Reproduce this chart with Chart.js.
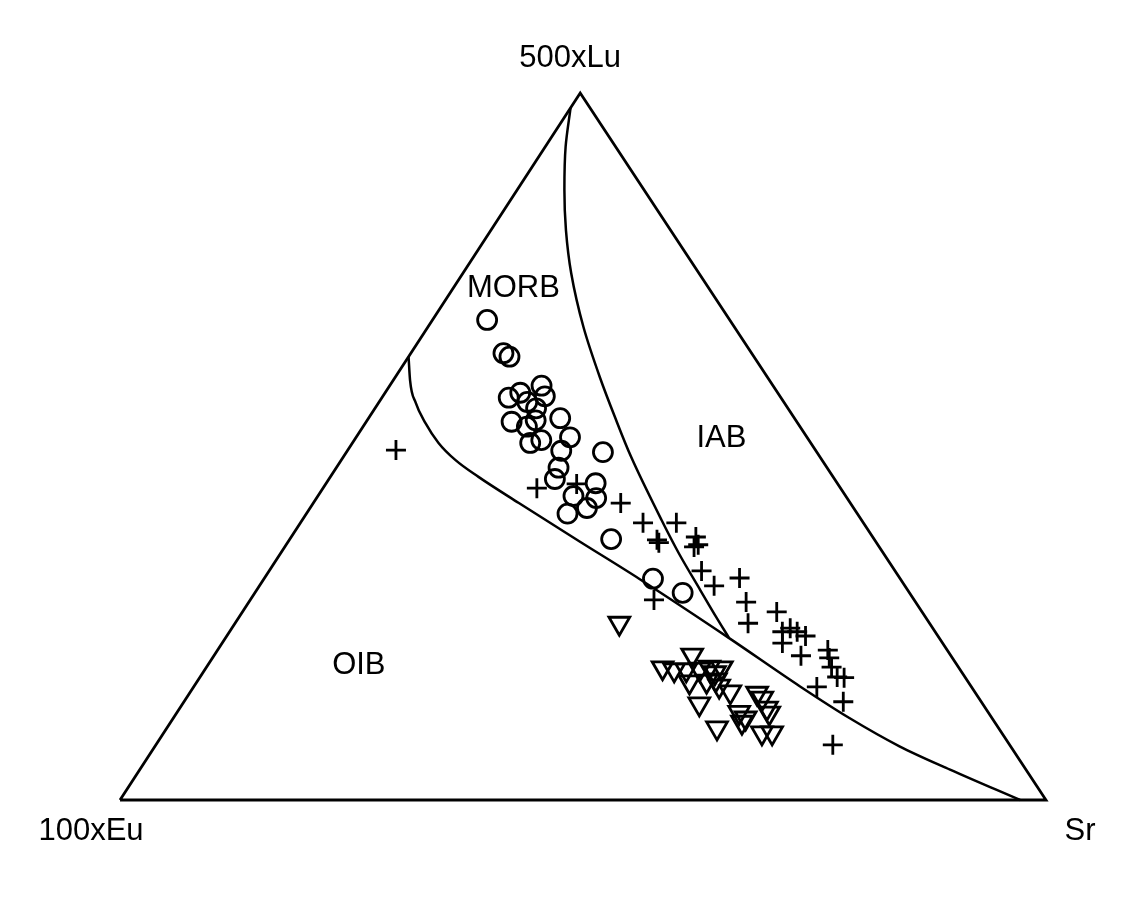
<!DOCTYPE html>
<html>
<head>
<meta charset="utf-8">
<script src="https://cdn.jsdelivr.net/npm/chart.js@4/dist/chart.umd.min.js"></script>
<style>
  body { margin: 0; background: #fff; }
  canvas { display: block; }
</style>
</head>
<body>
<canvas id="chart" width="1125" height="900"></canvas>
<script>
// ternary values in percent: Lu = 500xLu, Sr = Sr (100xEu is the rest)
const circLu = [67.9, 63.2, 62.7, 58.6, 57.1, 56.9, 57.6, 56.3, 53.5, 52.8, 53.7, 54.0, 51.3, 50.9, 50.5, 49.4, 49.2, 47.0, 45.4, 44.8, 43.0, 42.7, 41.3, 40.5, 36.9, 31.3, 29.3, 55.4];
const circSr = [5.9, 10.0, 10.9, 16.4, 17.5, 13.7, 14.6, 16.0, 15.7, 17.7, 18.2, 20.7, 23.1, 20.2, 19.2, 23.1, 27.7, 24.0, 24.4, 29.1, 27.6, 30.2, 29.9, 28.2, 34.7, 42.0, 46.2, 17.4];

const plusLu = [49.5, 44.1, 44.7, 42.0, 39.2, 39.2, 36.8, 36.4, 37.2, 35.8, 36.1, 32.4, 30.3, 31.4, 28.3, 28.0, 25.0, 26.6, 23.8, 22.2, 24.3, 23.8, 23.2, 20.4, 21.2, 20.1, 18.8, 17.4, 17.3, 16.0, 13.9, 7.8];
const plusSr = [5.2, 23.1, 27.1, 33.2, 37.0, 40.6, 39.7, 40.1, 43.7, 44.2, 44.5, 46.7, 49.1, 51.3, 43.6, 53.7, 55.4, 57.7, 59.7, 60.5, 60.3, 61.3, 62.5, 63.4, 65.9, 66.6, 67.5, 68.8, 69.6, 67.3, 71.2, 73.1];

const triLu = [25.0, 20.5, 18.7, 18.4, 18.4, 18.5, 18.8, 18.0, 18.7, 16.7, 16.8, 17.0, 16.1, 15.3, 13.6, 15.1, 14.4, 13.0, 12.4, 11.6, 11.0, 10.2, 9.5, 9.5, 12.3];
const triSr = [41.5, 51.6, 49.3, 50.7, 52.0, 53.4, 54.3, 55.3, 55.7, 53.2, 55.0, 55.9, 56.7, 58.3, 55.8, 61.3, 62.2, 63.4, 60.7, 61.8, 61.7, 59.4, 64.6, 65.7, 64.0];

// field boundaries
const iabLineLu = [97.9, 92.4, 86.3, 80.6, 74.5, 66.9, 59.8, 54.2, 48.5, 39.6, 34.9, 29.7, 25.9, 22.9];
const iabLineSr = [0.0, 2.2, 5.1, 8.1, 11.7, 16.8, 22.1, 26.5, 31.1, 38.8, 43.0, 47.9, 51.5, 54.4];
const oibLineLu = [62.7, 59.4, 56.2, 53.3, 50.5, 48.1, 45.7, 42.0, 36.6, 31.3, 22.9, 16.1, 11.6, 7.6, 4.3, 0.0];
const oibLineSr = [0.0, 1.8, 4.0, 6.5, 9.3, 12.3, 16.0, 22.2, 31.4, 40.5, 54.4, 65.4, 73.0, 80.4, 87.5, 97.2];

// triangle corners: 100xEu, 500xLu, Sr
const frameLu = [0, 100, 0, 0];
const frameSr = [0, 0, 100, 0];

const vertexLabels = ["500xLu", "100xEu", "Sr"];
const fieldLabels = ["MORB", "IAB", "OIB"];
const fieldLu = [72.4, 51.2, 19.1];
const fieldSr = [6.5, 39.5, 16.3];

const APEX = 0.497; // horizontal position of the 500xLu corner

function tern(lu, sr) {
	return { x: (sr + lu * APEX) / 100, y: lu / 100 };
}

function toXY(lu, sr) {
	return lu.map((v, i) => tern(v, sr[i]));
}

const FONT = '31px "Liberation Sans", Arial, sans-serif';

const labelPlugin = {
	id: "labels",
	afterDatasetsDraw(chart) {
		const { ctx, scales } = chart;
		const px = (lu, sr) => {
			const p = tern(lu, sr);
			return { x: scales.x.getPixelForValue(p.x), y: scales.y.getPixelForValue(p.y) };
		};
		ctx.save();
		ctx.font = FONT;
		ctx.fillStyle = "#000";
		ctx.textAlign = "center";
		ctx.textBaseline = "middle";

		const top = px(100, 0);
		const left = px(0, 0);
		const right = px(0, 100);
		ctx.fillText(vertexLabels[0], top.x - 10, top.y - 35);
		ctx.fillText(vertexLabels[1], left.x - 29, left.y + 31);
		ctx.fillText(vertexLabels[2], right.x + 34, right.y + 31);

		fieldLabels.forEach((t, i) => {
			const p = px(fieldLu[i], fieldSr[i]);
			ctx.fillText(t, p.x, p.y);
		});
		ctx.restore();
	},
};

const lineStyle = {
	showLine: true,
	borderColor: "#000",
	borderWidth: 2.5,
	pointRadius: 0,
	fill: false,
};

const markerStyle = {
	showLine: false,
	backgroundColor: "rgba(0,0,0,0)",
	borderColor: "#000",
	pointBorderWidth: 2.8,
};

new Chart(document.getElementById("chart"), {
	type: "scatter",
	data: {
		datasets: [
			{ label: "frame", data: toXY(frameLu, frameSr), ...lineStyle, borderWidth: 2.8, tension: 0 },
			// this curve runs top to bottom, so smooth it along y
			{ label: "IAB boundary", data: toXY(iabLineLu, iabLineSr), ...lineStyle, indexAxis: "y", cubicInterpolationMode: "monotone" },
			{ label: "OIB boundary", data: toXY(oibLineLu, oibLineSr), ...lineStyle, cubicInterpolationMode: "monotone" },
			{ label: "circles", data: toXY(circLu, circSr), ...markerStyle, pointStyle: "circle", pointRadius: 9.5 },
			{ label: "crosses", data: toXY(plusLu, plusSr), ...markerStyle, pointStyle: "cross", pointRadius: 10 },
			{ label: "triangles", data: toXY(triLu, triSr), ...markerStyle, pointStyle: "triangle", pointRotation: 180, pointRadius: 12 },
		],
	},
	options: {
		responsive: false,
		animation: false,
		layout: { padding: { left: 120, right: 79, top: 93, bottom: 100 } },
		scales: {
			x: { type: "linear", min: 0, max: 1, display: false },
			y: { type: "linear", min: 0, max: 1, display: false },
		},
		elements: { line: { borderCapStyle: "butt", borderJoinStyle: "miter" } },
		datasets: { scatter: { clip: false } },
		plugins: {
			legend: { display: false },
			tooltip: { enabled: false },
		},
	},
	plugins: [labelPlugin],
});
</script>
</body>
</html>
